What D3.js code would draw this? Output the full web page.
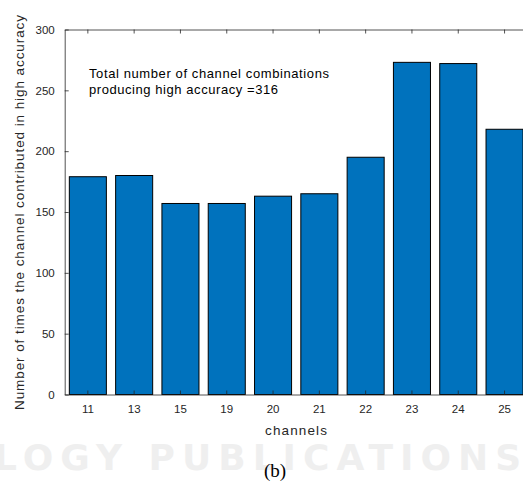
<!DOCTYPE html>
<html lang="en">
<head>
    <meta charset="UTF-8">
    <title>Channel contributions to high accuracy</title>
    <script src="https://d3js.org/d3.v7.min.js"></script>
    <style>
        body {
            margin: 0;
            background: #fff;
        }
        svg {
            display: block;
            font-family: "Liberation Sans", Arial, sans-serif;
        }
    </style>
</head>
<body>
    <svg width="523" height="482"></svg>
    <script>
        // Data
        const channels = ["11", "13", "15", "19", "20", "21", "22", "23", "24", "25"];
        const counts = [179, 180, 157, 157, 163, 165, 195, 273, 272, 218];
        const yTicks = [0, 50, 100, 150, 200, 250, 300];

        const svg = d3.select("svg");
        const margin = { top: 29.5, left: 64.7, bottom: 87.5 };
        const plotW = 463;               // the right edge runs past the picture
        const plotH = 482 - margin.top - margin.bottom;
        const ink = "#262626";

        // faint watermark behind everything
        svg.append("text")
            .attr("x", -6)
            .attr("y", 470)
            .attr("fill", "#efefef")
            .style("font-family", "'DejaVu Sans', sans-serif")
            .style("font-weight", "bold")
            .style("font-size", "36px")
            .style("letter-spacing", "7px")
            .text("LOGY PUBLICATIONS");

        const g = svg.append("g")
            .attr("transform", `translate(${margin.left},${margin.top})`);

        const x = d3.scaleBand()
            .domain(channels)
            .range([0, plotW])
            .paddingInner(0.2)
            .paddingOuter(0.1);

        const y = d3.scaleLinear()
            .domain([0, 300])
            .range([plotH, 0]);

        // bars
        g.selectAll(".bar")
            .data(counts)
            .enter().append("rect")
            .attr("class", "bar")
            .attr("x", (d, i) => x(channels[i]))
            .attr("y", d => y(d))
            .attr("width", x.bandwidth())
            .attr("height", d => y(0) - y(d))
            .attr("fill", "#0072BD")
            .attr("stroke", "#000")
            .attr("stroke-width", 1);

        // bottom axis, ticks pointing inside
        const xAxis = g.append("g")
            .attr("transform", `translate(0,${plotH})`)
            .call(d3.axisBottom(x).tickSizeInner(-4).tickSizeOuter(0).tickPadding(10));

        // left axis
        const yAxis = g.append("g")
            .call(d3.axisLeft(y).tickValues(yTicks).tickSizeInner(-4).tickSizeOuter(0).tickPadding(10));

        // top axis (box), ticks only
        const topAxis = g.append("g")
            .call(d3.axisTop(x).tickSizeInner(-4).tickSizeOuter(0).tickFormat(""));

        [xAxis, yAxis, topAxis].forEach(a => {
            a.select(".domain").attr("stroke", ink).attr("stroke-width", 0.8);
            a.selectAll(".tick line").attr("stroke", ink).attr("stroke-width", 0.8);
            a.selectAll(".tick text")
                .attr("fill", ink)
                .style("font-family", "'Liberation Sans', Arial, sans-serif")
                .style("font-size", "11.5px");
        });

        // annotation inside the axes
        const note = g.append("text")
            .attr("fill", "#000")
            .style("font-size", "13px");
        note.append("tspan")
            .attr("x", 24.3)
            .attr("y", 48.5)
            .attr("textLength", 240)
            .attr("lengthAdjust", "spacing")
            .text("Total number of channel combinations");
        note.append("tspan")
            .attr("x", 24.3)
            .attr("y", 64.5)
            .attr("textLength", 189)
            .attr("lengthAdjust", "spacing")
            .text("producing high accuracy =316");

        // axis labels
        svg.append("text")
            .attr("x", 265)
            .attr("y", 435)
            .attr("textLength", 62)
            .attr("lengthAdjust", "spacing")
            .attr("fill", ink)
            .style("font-size", "13.5px")
            .text("channels");

        svg.append("text")
            .attr("transform", "translate(24,410) rotate(-90)")
            .attr("textLength", 395)
            .attr("lengthAdjust", "spacing")
            .attr("fill", ink)
            .style("font-size", "13.5px")
            .text("Number of times the channel contributed in high accuracy");

        // sub-figure caption
        svg.append("text")
            .attr("x", 275)
            .attr("y", 477)
            .attr("text-anchor", "middle")
            .attr("fill", "#000")
            .style("font-family", "'Liberation Serif', 'Times New Roman', serif")
            .style("font-size", "19px")
            .text("(b)");
    </script>
</body>
</html>
